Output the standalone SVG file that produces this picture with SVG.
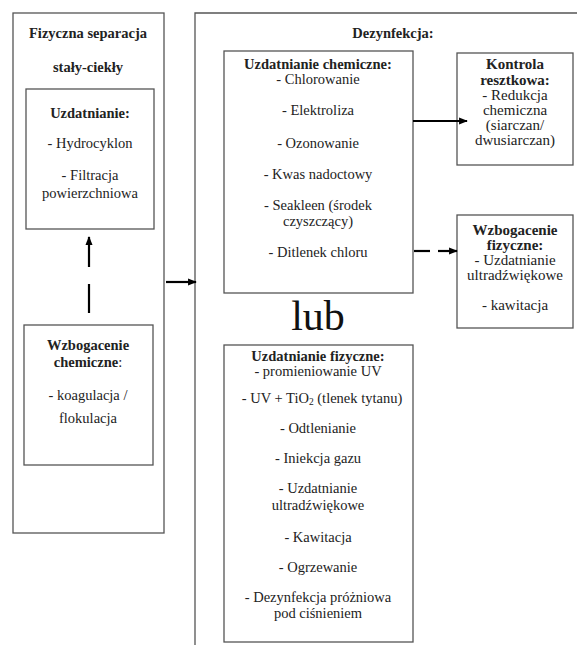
<svg xmlns="http://www.w3.org/2000/svg" width="577" height="645" viewBox="0 0 577 645" font-family="Liberation Serif, serif">
<defs>
<marker id="ah" viewBox="0 0 10 10" refX="9" refY="5" markerWidth="4" markerHeight="4" orient="auto" markerUnits="strokeWidth">
<path d="M0,1 L10,5 L0,9 z" fill="#000"/>
</marker>
<style>
.box{fill:#fff;stroke:#555;stroke-width:1.3}
.t{font-family:'Liberation Serif',serif;font-size:14.5px;fill:#222;text-anchor:middle}
.s{font-size:15px}
.b{font-weight:bold}
.c{stroke:#000;stroke-width:2.2;fill:none}
</style>
</defs>
<rect width="577" height="645" fill="#fff"/>
<g id="fizyczna-separacja">
<rect class="box" x="13" y="13" width="151" height="520"/>
<text class="t b" x="88" y="38">Fizyczna separacja</text>
<text class="t b" x="88" y="72">stały-ciekły</text>
</g>
<g id="uzdatnianie">
<rect class="box" x="26" y="89" width="128" height="140"/>
<text class="t b" x="90" y="118">Uzdatnianie:</text>
<text class="t" x="90" y="148">- Hydrocyklon</text>
<text class="t" x="90" y="180">- Filtracja</text>
<text class="t" x="90" y="198">powierzchniowa</text>
</g>
<g id="wzbogacenie-chemiczne">
<rect class="box" x="24" y="325" width="129" height="140"/>
<text class="t b" x="88" y="350">Wzbogacenie</text>
<text class="t" x="88" y="367"><tspan font-weight="bold">chemiczne</tspan>:</text>
<text class="t" x="88" y="400">- koagulacja /</text>
<text class="t" x="88" y="423">flokulacja</text>
</g>
<g id="dezynfekcja">
<path d="M195,645 V13 H577" fill="none" stroke="#555" stroke-width="1.3"/>
<text class="t b" x="393" y="38">Dezynfekcja:</text>
</g>
<g id="uzdatnianie-chemiczne">
<rect class="box" x="224" y="51" width="189" height="242"/>
<text class="t b" x="318" y="69">Uzdatnianie chemiczne:</text>
<text class="t" x="318" y="84">- Chlorowanie</text>
<text class="t" x="318" y="115">- Elektroliza</text>
<text class="t" x="318" y="148">- Ozonowanie</text>
<text class="t" x="318" y="179">- Kwas nadoctowy</text>
<text class="t" x="318" y="210">- Seakleen (środek</text>
<text class="t" x="318" y="226">czyszczący)</text>
<text class="t" x="318" y="257">- Ditlenek chloru</text>
</g>
<g id="kontrola-resztkowa">
<rect class="box" x="457" y="53" width="116" height="112"/>
<text class="t s b" x="515" y="69">Kontrola</text>
<text class="t s b" x="515" y="85">resztkowa:</text>
<text class="t s" x="515" y="100">- Redukcja</text>
<text class="t s" x="515" y="115">chemiczna</text>
<text class="t s" x="515" y="130">(siarczan/</text>
<text class="t s" x="515" y="145">dwusiarczan)</text>
</g>
<g id="wzbogacenie-fizyczne">
<rect class="box" x="457" y="215" width="116" height="113"/>
<text class="t s b" x="515" y="235">Wzbogacenie</text>
<text class="t s b" x="515" y="250">fizyczne:</text>
<text class="t s" x="515" y="265">- Uzdatnianie</text>
<text class="t s" x="515" y="280">ultradźwiękowe</text>
<text class="t s" x="515" y="310">- kawitacja</text>
</g>
<g id="lub">
<text x="318" y="330" font-family="Liberation Serif, serif" font-size="42" text-anchor="middle" fill="#111">lub</text>
</g>
<g id="uzdatnianie-fizyczne">
<rect class="box" x="224" y="345" width="189" height="297"/>
<text class="t b" x="318" y="361">Uzdatnianie fizyczne:</text>
<text class="t" x="318" y="376">- promieniowanie UV</text>
<text class="t" x="322" y="403">-  UV + TiO<tspan font-size="9.5" dy="2">2</tspan><tspan dy="-2"> (tlenek tytanu)</tspan></text>
<text class="t" x="318" y="433">- Odtlenianie</text>
<text class="t" x="318" y="463">- Iniekcja gazu</text>
<text class="t" x="318" y="493">- Uzdatnianie</text>
<text class="t" x="318" y="510">ultradźwiękowe</text>
<text class="t" x="318" y="542">- Kawitacja</text>
<text class="t" x="318" y="572">- Ogrzewanie</text>
<text class="t" x="318" y="602">- Dezynfekcja próżniowa</text>
<text class="t" x="318" y="618">pod ciśnieniem</text>
</g>
<g id="connectors">
<line class="c" x1="89" y1="313" x2="89" y2="284"/>
<line class="c" x1="89" y1="267" x2="89" y2="237" marker-end="url(#ah)"/>
<line class="c" x1="166" y1="282" x2="196" y2="282" marker-end="url(#ah)"/>
<line class="c" x1="413" y1="121" x2="467" y2="121" marker-end="url(#ah)"/>
<line class="c" x1="414" y1="251" x2="430" y2="251"/>
<line class="c" x1="438" y1="251" x2="457" y2="251" marker-end="url(#ah)"/>
</g>
</svg>
